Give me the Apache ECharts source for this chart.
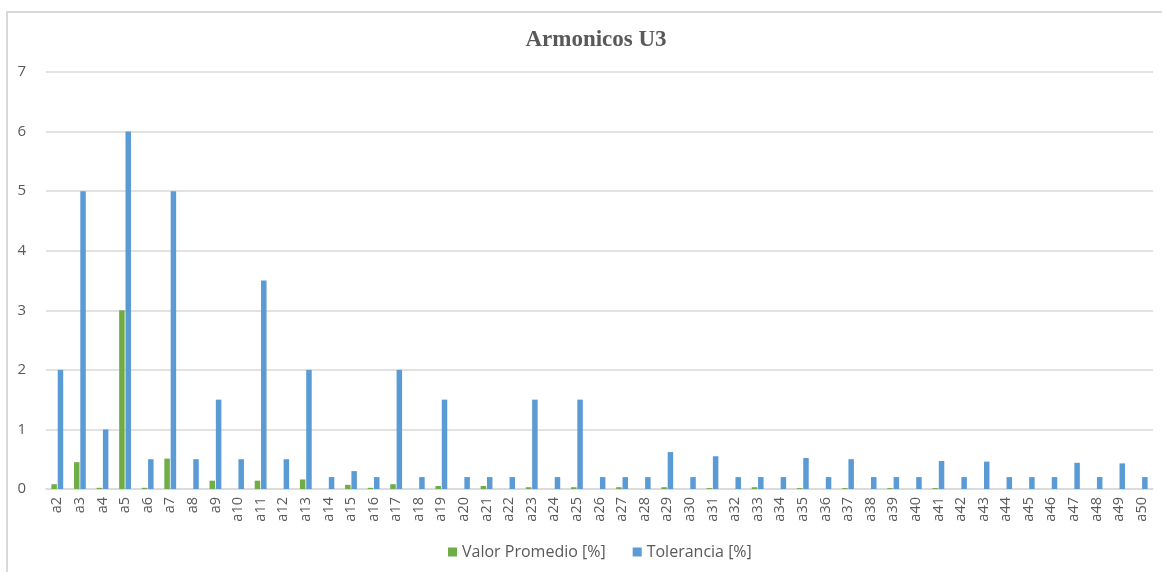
<!DOCTYPE html>
<html>
<head>
<meta charset="utf-8">
<script src="https://cdn.jsdelivr.net/npm/echarts@6/dist/echarts.min.js"></script>
<style>
  body { margin: 0; background: #fff; }
  #wrap { position: relative; width: 1162px; height: 574px; }
  #frame {
    position: absolute; left: 6px; top: 11px; right: 0; bottom: 2px;
    border-top: 2px solid #d9d9d9; border-left: 2px solid #d9d9d9;
  }
  #chart { position: absolute; left: 0; top: 0; width: 1162px; height: 574px; }
</style>
</head>
<body>
<div id="wrap">
  <div id="frame"></div>
  <div id="chart"></div>
</div>
<script>
// armonicos a2..a50
const categories = [];
for (let h = 2; h <= 50; h++) categories.push("a" + h);

const valorPromedio = [
  0.08, 0.45, 0.02, 3.0, 0.02, 0.51, 0, 0.14, 0, 0.14,
  0, 0.16, 0, 0.07, 0.02, 0.08, 0, 0.05, 0, 0.05,
  0, 0.03, 0, 0.03, 0, 0.03, 0, 0.03, 0, 0.015,
  0, 0.03, 0, 0.015, 0, 0.015, 0, 0.015, 0, 0.015,
  0, 0, 0, 0, 0, 0, 0, 0, 0
];

const tolerancia = [
  2, 5, 1, 6, 0.5, 5, 0.5, 1.5, 0.5, 3.5,
  0.5, 2, 0.2, 0.3, 0.2, 2, 0.2, 1.5, 0.2, 0.2,
  0.2, 1.5, 0.2, 1.5, 0.2, 0.2, 0.2, 0.62, 0.2, 0.55,
  0.2, 0.2, 0.2, 0.52, 0.2, 0.5, 0.2, 0.2, 0.2, 0.47,
  0.2, 0.46, 0.2, 0.2, 0.2, 0.44, 0.2, 0.43, 0.2
];

const textColor = "#595959";
const lineColor = "#d9d9d9";

const chart = echarts.init(document.getElementById("chart"));

chart.setOption({
  animation: false,
  title: {
    text: "Armonicos U3",
    left: 591,
    textAlign: "center",
    top: 24,
    textStyle: {
      fontFamily: "Liberation Serif",
      fontWeight: "bold",
      fontSize: 23,
      color: textColor
    }
  },
  legend: {
    bottom: 9,
    left: 443,
    icon: "rect",
    itemWidth: 9,
    itemHeight: 9,
    itemGap: 27,
    textStyle: {
      fontFamily: "Open Sans",
      fontSize: 16,
      color: textColor
    },
    data: ["Valor Promedio [%]", "Tolerancia [%]"]
  },
  grid: {
    left: 46,
    right: 9,
    top: 72,
    bottom: 85
  },
  xAxis: {
    type: "category",
    data: categories,
    axisLine: { lineStyle: { color: lineColor, width: 1.5 } },
    axisTick: { show: false },
    axisLabel: {
      interval: 0,
      rotate: 90,
      margin: 8,
      fontFamily: "Open Sans",
      fontSize: 14.5,
      color: textColor
    }
  },
  yAxis: {
    type: "value",
    min: 0,
    max: 7,
    interval: 1,
    axisLine: { show: false },
    axisTick: { show: false },
    splitLine: { lineStyle: { color: lineColor, width: 1.5 } },
    axisLabel: {
      margin: 20,
      fontFamily: "Open Sans",
      fontSize: 15,
      color: textColor
    }
  },
  series: [
    {
      name: "Valor Promedio [%]",
      type: "bar",
      data: valorPromedio,
      barWidth: 5.5,
      barGap: "15%",
      itemStyle: { color: "#70AD47" }
    },
    {
      name: "Tolerancia [%]",
      type: "bar",
      data: tolerancia,
      barWidth: 5.5,
      barGap: "15%",
      itemStyle: { color: "#5B9BD5" }
    }
  ]
});
</script>
</body>
</html>
